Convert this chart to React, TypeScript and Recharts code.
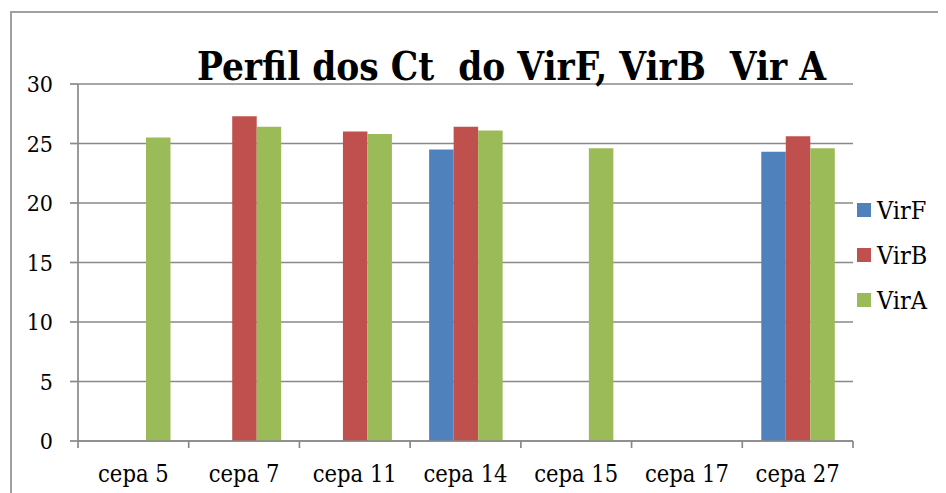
import React from 'react';
import { BarChart, Bar, XAxis, YAxis, CartesianGrid, Legend, Customized } from 'recharts';

const categories = ['cepa 5', 'cepa 7', 'cepa 11', 'cepa 14', 'cepa 15', 'cepa 17', 'cepa 27'];
const virF: (number | null)[] = [null, null, null, 24.5, null, null, 24.3];
const virB: (number | null)[] = [null, 27.3, 26.0, 26.4, null, null, 25.6];
const virA: (number | null)[] = [25.5, 26.4, 25.8, 26.1, 24.6, null, 24.6];
const yTicks = [0, 5, 10, 15, 20, 25, 30];
const seriesNames = ['VirF', 'VirB', 'VirA'];
const seriesColors = ['#4F81BD', '#C0504D', '#9BBB59'];
const titleText = 'Perfil dos Ct  do VirF, VirB  Vir A';

const data = categories.map((c, i) => ({ name: c, VirF: virF[i], VirB: virB[i], VirA: virA[i] }));

const W = 938;
const H = 485;
const MARGIN = { top: 76, right: 93, bottom: 12, left: 10 };
const Y_W = 60;
const PLOT_W = W - MARGIN.left - MARGIN.right - Y_W;
const FONT = '"DejaVu Serif Condensed", "DejaVu Serif", serif';
const GRID = '#898989';

const XTick = (props: any) => {
  const { x, y, payload, index } = props;
  const band = PLOT_W / categories.length;
  return (
    <g>
      <line x1={x - band / 2} x2={x - band / 2} y1={y} y2={y + 7} stroke={GRID} strokeWidth={1.7} />
      {index === categories.length - 1 && (
        <line x1={x + band / 2} x2={x + band / 2} y1={y} y2={y + 7} stroke={GRID} strokeWidth={1.7} />
      )}
      <text x={x} y={y + 41} textAnchor="middle" fontSize={23.5} style={{ fontFamily: FONT, fontStretch: 'condensed' }} fill="#000">
        {payload.value}
      </text>
    </g>
  );
};

const YTick = (props: any) => {
  const { x, y, payload } = props;
  return (
    <text x={x} y={y + 8} textAnchor="end" fontSize={23} style={{ fontFamily: FONT, fontStretch: 'condensed' }} fill="#000">
      {payload.value}
    </text>
  );
};

const Title = () => (
  <text
    x={189}
    y={72}
    textAnchor="start"
    fontSize={40}
    fontWeight="bold"
    fill="#000"
    textLength={629}
    lengthAdjust="spacingAndGlyphs"
    style={{ whiteSpace: 'pre', fontFamily: FONT, fontStretch: 'condensed' }}
    xmlSpace="preserve"
  >
    {titleText}
  </text>
);

const LegendContent = () => (
  <div style={{ fontFamily: FONT, fontStretch: 'condensed', fontSize: 25, color: '#000' }}>
    {seriesNames.map((n, i) => (
      <div key={n} style={{ display: 'flex', alignItems: 'center', height: 45 }}>
        <div style={{ width: 14, height: 14, background: seriesColors[i], marginRight: 6 }} />
        <span style={{ lineHeight: '45px' }}>{n}</span>
      </div>
    ))}
  </div>
);

export default function App() {
  return (
    <div style={{ position: 'relative', width: W, height: H, overflow: 'hidden', background: '#fff' }}>
      <div
        style={{
          position: 'absolute',
          left: 2,
          top: 3,
          width: W + 20,
          height: H + 20,
          borderLeft: '2px solid #a0a0a0',
          borderTop: '2px solid #a0a0a0',
          boxSizing: 'border-box',
        }}
      />
      <BarChart width={W} height={H} data={data} margin={MARGIN} barGap={0} barSize={24.5}>
        <CartesianGrid horizontal vertical={false} stroke={GRID} strokeWidth={1.7} />
        <XAxis
          dataKey="name"
          height={40}
          tickSize={0}
          tickMargin={0}
          tickLine={false}
          axisLine={{ stroke: GRID, strokeWidth: 1.7 }}
          tick={<XTick />}
          interval={0}
        />
        <YAxis
          width={Y_W}
          domain={[0, 30]}
          ticks={yTicks}
          interval={0}
          tickSize={8}
          tickMargin={17}
          tickLine={{ stroke: GRID, strokeWidth: 1.7 }}
          axisLine={{ stroke: GRID, strokeWidth: 1.7 }}
          tick={<YTick />}
        />
        <Legend
          layout="vertical"
          align="center"
          verticalAlign="middle"
          content={<LegendContent />}
          wrapperStyle={{ position: 'absolute', left: 849, top: 179.5, width: 90 }}
        />
        {seriesNames.map((n, i) => (
          <Bar key={n} dataKey={n} fill={seriesColors[i]} isAnimationActive={false} />
        ))}
        <Customized component={<Title />} />
      </BarChart>
    </div>
  );
}
